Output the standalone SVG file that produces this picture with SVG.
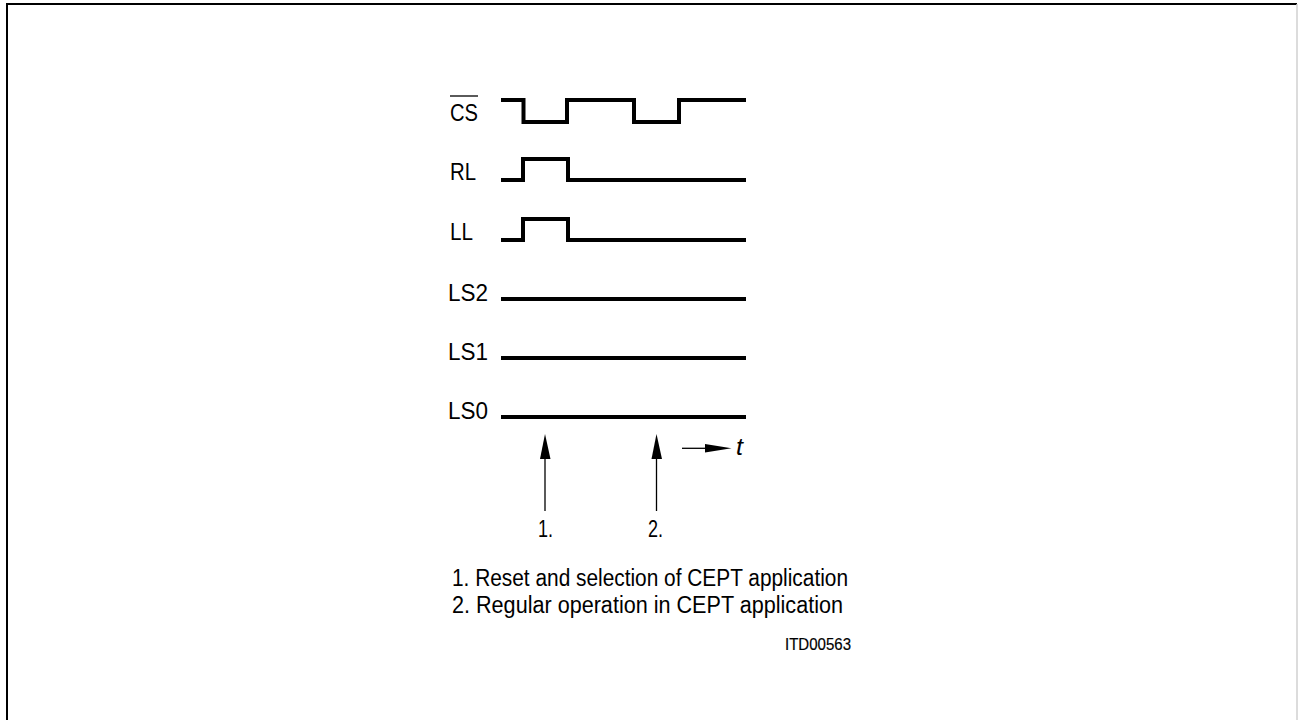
<svg xmlns="http://www.w3.org/2000/svg" width="1298" height="720" viewBox="0 0 1298 720">
<style>
.lbl{font-family:"Liberation Sans","Arial",sans-serif;font-size:23px;fill:#000;}
.leg{font-family:"Liberation Sans","Arial",sans-serif;font-size:23.5px;fill:#000;}
.sig{fill:none;stroke:#000;stroke-width:4;stroke-linejoin:miter;stroke-linecap:butt;}
.thin{fill:none;stroke:#000;stroke-width:1.3;}
</style>
<rect x="0" y="0" width="1298" height="720" fill="#fff"/>
<path d="M7,722 V4 H1297" fill="none" stroke="#000" stroke-width="2"/>
<line x1="1297" y1="4" x2="1297" y2="720" stroke="#d0d0d0" stroke-width="1.5"/>

<g id="CS">
<text class="lbl" x="450" y="121" textLength="28" lengthAdjust="spacingAndGlyphs">CS</text>
<line x1="450" y1="96" x2="478" y2="96" stroke="#000" stroke-width="1.3"/>
<path class="sig" d="M501,100 H523.5 V122 H567 V100 H634 V122 H679 V100 H746"/>
</g>
<g id="RL">
<text class="lbl" x="450" y="179.5" textLength="26" lengthAdjust="spacingAndGlyphs">RL</text>
<path class="sig" d="M501,180 H523 V159 H568 V180 H746"/>
</g>
<g id="LL">
<text class="lbl" x="450" y="239.5" textLength="23" lengthAdjust="spacingAndGlyphs">LL</text>
<path class="sig" d="M501,240 H523 V219 H568 V240 H746"/>
</g>
<g id="LS2">
<text class="lbl" x="448" y="300.5" textLength="40" lengthAdjust="spacingAndGlyphs">LS2</text>
<path class="sig" d="M501,299 H746"/>
</g>
<g id="LS1">
<text class="lbl" x="448" y="359.5" textLength="40" lengthAdjust="spacingAndGlyphs">LS1</text>
<path class="sig" d="M501,358 H746"/>
</g>
<g id="LS0">
<text class="lbl" x="448" y="418.5" textLength="40" lengthAdjust="spacingAndGlyphs">LS0</text>
<path class="sig" d="M501,417 H746"/>
</g>

<g id="connectors">
<line class="thin" x1="545" y1="511" x2="545" y2="456"/>
<polygon points="545,434 540,459 550.5,459" fill="#000"/>
<line class="thin" x1="656.5" y1="511" x2="656.5" y2="456"/>
<polygon points="656.5,434 651.5,459 662,459" fill="#000"/>
<line class="thin" x1="682" y1="448.3" x2="708" y2="448.3"/>
<polygon points="731.5,448.3 705,444 705,452.5" fill="#000"/>
</g>

<g id="t-label">
<text x="736" y="455" font-family="Liberation Sans, Arial, sans-serif" font-style="italic" font-size="23" textLength="7" lengthAdjust="spacingAndGlyphs">t</text>
</g>
<g id="marker1">
<text class="lbl" x="538" y="537" textLength="15" lengthAdjust="spacingAndGlyphs">1.</text>
</g>
<g id="marker2">
<text class="lbl" x="648" y="537" textLength="15" lengthAdjust="spacingAndGlyphs">2.</text>
</g>
<g id="legend">
<text class="leg" x="452" y="586" textLength="396" lengthAdjust="spacingAndGlyphs">1. Reset and selection of CEPT application</text>
<text class="leg" x="452" y="613" textLength="391" lengthAdjust="spacingAndGlyphs">2. Regular operation in CEPT application</text>
<text x="785" y="650" font-family="Liberation Sans, Arial, sans-serif" font-size="17" textLength="66" lengthAdjust="spacingAndGlyphs" stroke="#000" stroke-width="0.2">ITD00563</text>
</g>
</svg>
